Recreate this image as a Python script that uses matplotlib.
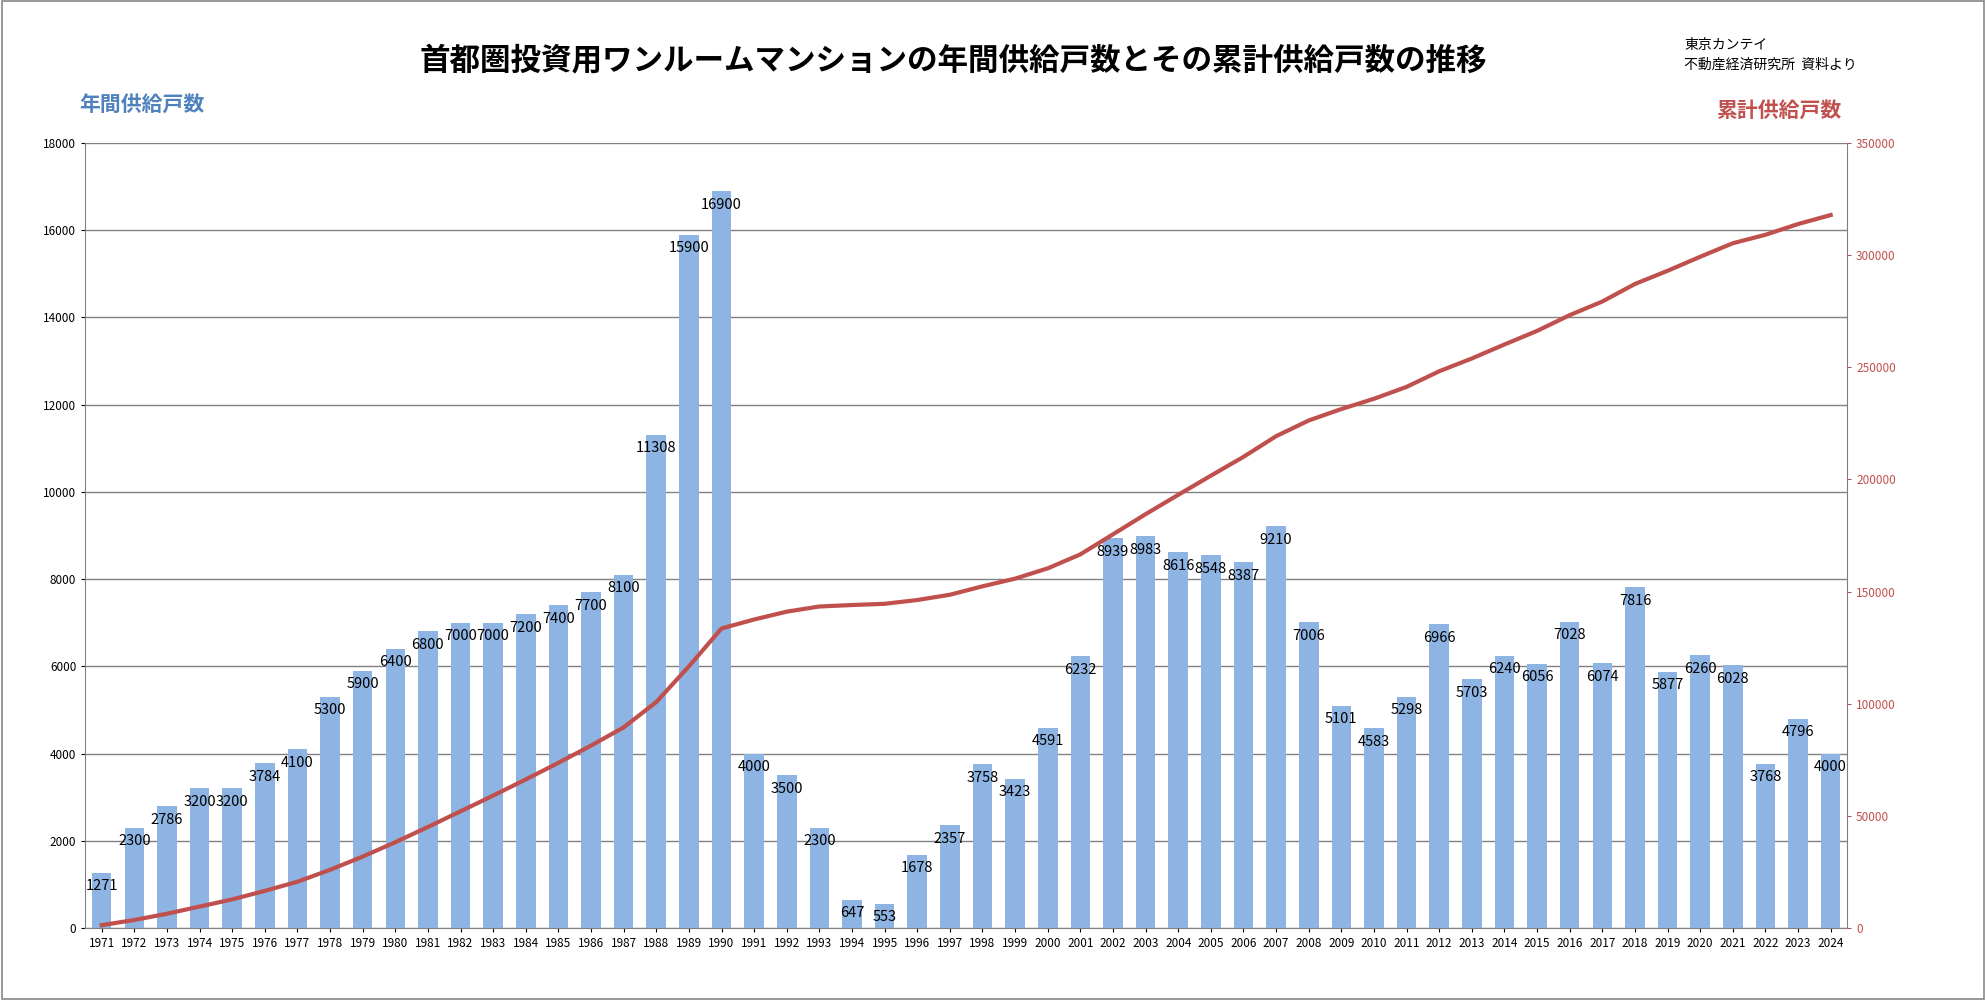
import matplotlib
matplotlib.use("Agg")
import matplotlib.pyplot as plt
import numpy as np
from matplotlib.patches import Rectangle

plt.rcParams["font.family"] = ["Noto Sans CJK JP", "DejaVu Sans"]

years = [str(y) for y in range(1971, 2025)]
supply = [1271, 2300, 2786, 3200, 3200, 3784, 4100, 5300, 5900, 6400, 6800, 7000, 7000, 7200,
          7400, 7700, 8100, 11308, 15900, 16900, 4000, 3500, 2300, 647, 553, 1678, 2357, 3758,
          3423, 4591, 6232, 8939, 8983, 8616, 8548, 8387, 9210, 7006, 5101, 4583, 5298, 6966,
          5703, 6240, 6056, 7028, 6074, 7816, 5877, 6260, 6028, 3768, 4796, 4000]
cumulative = np.cumsum(supply)

fig = plt.figure(figsize=(19.86, 10), dpi=100)
fig.patches.append(Rectangle((0.001, 0.001), 0.998, 0.998, transform=fig.transFigure,
                             fill=False, edgecolor="#888888", lw=1.2))
ax = fig.add_axes([0.043, 0.072, 0.887, 0.785])
x = np.arange(len(years))
ax.bar(x, supply, width=0.6, color="#8DB4E2", zorder=2)
for xi, v in zip(x, supply):
    ax.text(xi, v - 150, str(v), ha="center", va="top", fontsize=10.5, zorder=4)
ax.set_ylim(0, 18000)
ax.set_yticks(range(0, 18001, 2000))
ax.set_xlim(-0.5, len(years) - 0.5)
ax.set_xticks(x)
ax.set_xticklabels(years, fontsize=8.5)
ax.tick_params(axis="y", labelsize=8.5, length=3)
ax.tick_params(axis="x", length=3)
ax.grid(axis="y", color="#808080", lw=1, zorder=0)
for s in ["top", "right"]:
    ax.spines[s].set_visible(False)
ax.spines["left"].set_color("#808080")
ax.spines["bottom"].set_color("#808080")

ax2 = ax.twinx()
ax2.plot(x, cumulative, color="#C0504D", lw=3, zorder=3)
ax2.set_ylim(0, 350000)
ax2.set_yticks(range(0, 350001, 50000))
ax2.tick_params(axis="y", labelsize=8.5, colors="#C0504D", length=3)
for s in ["top", "left", "bottom"]:
    ax2.spines[s].set_visible(False)
ax2.spines["right"].set_color("#808080")

fig.text(0.48, 0.94, "首都圏投資用ワンルームマンションの年間供給戸数とその累計供給戸数の推移",
         ha="center", va="center", fontsize=22, fontweight="bold")
fig.text(0.04, 0.895, "年間供給戸数", color="#4F81BD", fontsize=15, fontweight="bold", va="center")
fig.text(0.927, 0.89, "累計供給戸数", color="#C0504D", fontsize=15, fontweight="bold",
         ha="right", va="center")
fig.text(0.848, 0.955, "東京カンテイ", fontsize=10, va="center")
fig.text(0.848, 0.935, "不動産経済研究所  資料より", fontsize=10, va="center")

fig.savefig("out.png", dpi=100)
